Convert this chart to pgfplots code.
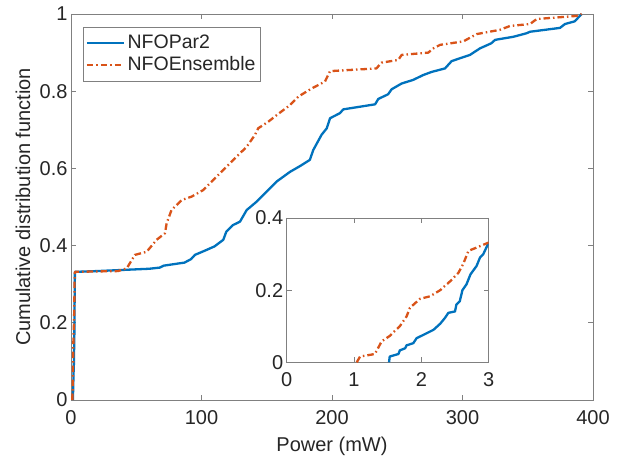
\documentclass[border=0pt]{standalone}
\usepackage{pgfplots}
\pgfplotsset{compat=1.18}
\usepackage{fontspec}
\setmainfont{Liberation Sans}
\definecolor{mblue}{rgb}{0,0.447,0.741}
\definecolor{morange}{rgb}{0.85,0.325,0.098}
\definecolor{axgray}{gray}{0.5}
\definecolor{txtgray}{gray}{0.15}
\pgfplotsset{
  mystyle/.style={
    scale only axis,
    axis line style={axgray, line width=0.7pt},
    tick style={axgray, line width=0.7pt},
    tick align=inside,
    major tick length=5pt,
    /pgf/number format/assume math mode=true,
    tick label style={font=\fontsize{20}{24}\selectfont, text=txtgray},
    label style={font=\fontsize{20}{24}\selectfont, text=txtgray},
    xticklabel style={yshift=-7pt},
    axis background/.style={fill=white},
  },
  blueline/.style={mblue, line width=2.3pt, line join=round},
  orangeline/.style={morange, line width=2.3pt, line join=round, dash pattern=on 6.5pt off 3pt on 1.5pt off 3pt},
}
\begin{document}
\begin{tikzpicture}
\useasboundingbox (-71pt,-61pt) rectangle (548pt,400pt);
\begin{axis}[mystyle,
  at={(0pt,0pt)}, anchor=south west,
  width=522pt, height=386pt,
  xmin=0, xmax=400, ymin=0, ymax=1,
  xtick={0,100,200,300,400},
  ytick={0,0.2,0.4,0.6,0.8,1},
  yticklabels={0,0.2,0.4,0.6,0.8,1},
  xlabel={Power (mW)},
  ylabel={Cumulative distribution function},
  xlabel style={at={(axis description cs:0.5,-0.1347)}, anchor=base},
  ylabel style={at={(axis description cs:-0.0785,0.5)}, anchor=base},
  legend style={at={(0,1)}, anchor=north west, xshift=12pt, yshift=-13pt,
    draw=axgray, line width=0.7pt, fill=white, inner xsep=2.5pt, inner ysep=5pt,
    font=\fontsize{19.5}{23}\selectfont, text=txtgray, row sep=0pt,
    nodes={inner xsep=2.5pt, inner ysep=2pt, text height=14pt, text depth=4pt}},
  legend cell align=left,
  legend image code/.code={\draw[#1] (0pt,0pt) -- (37pt,0pt);},
]
\addplot[blueline] coordinates {
(1.52,0) (1.53,0.016) (1.66,0.023) (1.68,0.033) (1.76,0.039) (1.78,0.047) (1.88,0.053) (1.93,0.067) (2.03,0.076) (2.18,0.09) (2.28,0.107) (2.35,0.123) (2.4,0.137) (2.5,0.141) (2.52,0.16) (2.57,0.169) (2.61,0.2) (2.67,0.216) (2.73,0.244) (2.82,0.267) (2.87,0.29) (2.92,0.3) (3.0,0.332)
(20,0.334) (40,0.337) (60,0.340) (68,0.343) (71,0.348) (87,0.356) (92,0.365) (95,0.376) (104,0.389) (110,0.398) (116.7,0.415) (119,0.436) (124,0.453) (129.5,0.462) (134.6,0.492) (142.3,0.514) (150,0.54) (157.6,0.566) (167.8,0.591) (175.5,0.606) (183,0.622) (185.7,0.648) (192,0.687) (196,0.704) (198.5,0.73) (206,0.743) (208.7,0.753) (233,0.766) (235.5,0.78) (243,0.792) (245.7,0.805) (253.4,0.82) (262,0.829) (270,0.842) (276.4,0.85) (286.6,0.859) (291.7,0.878) (305.7,0.894) (313.4,0.911) (322,0.924) (325,0.933) (339,0.941) (349,0.95) (351.7,0.954) (374.7,0.964) (378.5,0.974) (386,0.981) (391.3,1.0)
};
\addlegendentry{NFOPar2}
\addplot[orangeline] coordinates {
(1.04,0) (1.09,0.016) (1.31,0.023) (1.41,0.058) (1.53,0.073) (1.68,0.1) (1.78,0.127) (1.83,0.151) (1.98,0.176) (2.13,0.183) (2.28,0.2) (2.43,0.225) (2.55,0.248) (2.62,0.272) (2.7,0.309) (2.82,0.318) (3.0,0.332)
(36,0.334) (42.7,0.341) (49,0.376) (58,0.384) (65.6,0.415) (72,0.432) (73.3,0.458) (77,0.492) (84.8,0.518) (92.5,0.527) (101.4,0.544) (109,0.57) (114,0.587) (124.4,0.622) (134.6,0.656) (141,0.687) (143.5,0.704) (151.2,0.721) (157.6,0.738) (167.8,0.764) (174.2,0.786) (184.4,0.807) (194.6,0.825) (198.5,0.852) (234,0.859) (238,0.874) (250.8,0.881) (253.4,0.894) (273.8,0.9) (277.7,0.911) (282.8,0.92) (300.6,0.929) (310.9,0.948) (328.7,0.959) (336.4,0.969) (351.7,0.974) (356.9,0.987) (387.5,0.995) (391.3,1.0)
};
\addlegendentry{NFOEnsemble}
\end{axis}
\begin{axis}[mystyle,
  at={(215.7pt,37.7pt)}, anchor=south west,
  width=202pt, height=144.3pt,
  xmin=0, xmax=3, ymin=0, ymax=0.4,
  xtick={0,1,2,3},
  ytick={0,0.2,0.4},
  yticklabels={0,0.2,0.4},
]
\addplot[blueline] coordinates {
(1.52,0) (1.53,0.016) (1.66,0.023) (1.68,0.033) (1.76,0.039) (1.78,0.047) (1.88,0.053) (1.93,0.067) (2.03,0.076) (2.18,0.09) (2.28,0.107) (2.35,0.123) (2.4,0.137) (2.5,0.141) (2.52,0.16) (2.57,0.169) (2.61,0.2) (2.67,0.216) (2.73,0.244) (2.82,0.267) (2.87,0.29) (2.92,0.3) (3.0,0.332)
};
\addplot[orangeline] coordinates {
(1.04,0) (1.09,0.016) (1.31,0.023) (1.41,0.058) (1.53,0.073) (1.68,0.1) (1.78,0.127) (1.83,0.151) (1.98,0.176) (2.13,0.183) (2.28,0.2) (2.43,0.225) (2.55,0.248) (2.62,0.272) (2.7,0.309) (2.82,0.318) (3.0,0.332)
};
\end{axis}
\end{tikzpicture}
\end{document}
